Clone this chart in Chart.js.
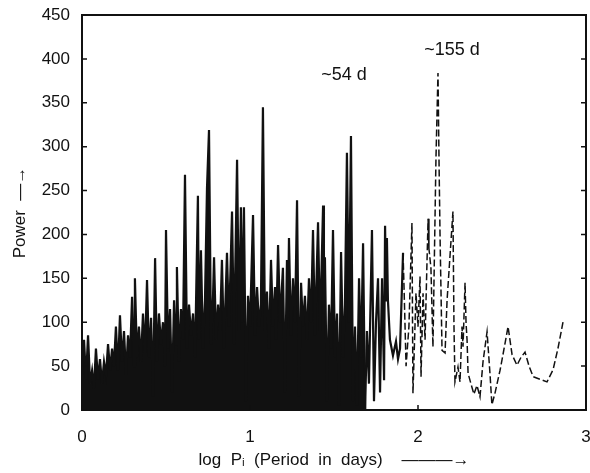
<!DOCTYPE html>
<html>
<head>
<meta charset="utf-8">
<script src="https://cdn.jsdelivr.net/npm/chart.js@4"></script>
<style>
  body { margin: 0; background: #fff; }
</style>
</head>
<body>
<canvas id="periodogram" width="590" height="473"></canvas>
<script>
// power spectrum as [log P, power]
var shortPeriod = [
  [0.000,40],[0.012,80],[0.024,35],[0.036,85],[0.048,30],[0.060,45],[0.071,25],[0.083,70],[0.095,35],[0.107,58],
  [0.119,30],[0.131,55],[0.143,40],[0.155,75],[0.167,45],[0.179,70],[0.190,50],[0.202,95],[0.214,45],[0.226,108],
  [0.238,55],[0.250,90],[0.262,40],[0.274,85],[0.286,60],[0.298,129],[0.310,50],[0.315,150],[0.327,60],[0.339,95],
  [0.351,55],[0.363,110],[0.375,65],[0.387,148],[0.399,60],[0.411,105],[0.423,15],[0.435,173],[0.446,55],[0.458,110],
  [0.470,75],[0.482,100],[0.494,50],[0.500,205],[0.512,70],[0.524,115],[0.536,20],[0.548,125],[0.560,75],[0.565,163],
  [0.577,55],[0.589,115],[0.601,80],[0.613,268],[0.625,70],[0.637,120],[0.649,85],[0.661,110],[0.673,60],[0.690,244],
  [0.696,80],[0.708,182],[0.720,70],[0.732,125],[0.744,253],[0.756,319],[0.768,75],[0.780,130],[0.786,174],[0.798,80],
  [0.810,120],[0.821,90],[0.833,171],[0.845,70],[0.863,179],[0.875,95],[0.893,226],[0.905,75],[0.923,285],[0.935,90],
  [0.946,231],[0.952,100],[0.964,231],[0.976,10],[0.988,130]
];
var midPeriod = [
  [1.000,95],[1.018,222],[1.030,85],[1.042,140],[1.054,95],[1.065,120],[1.077,345],[1.089,90],[1.101,135],[1.113,70],
  [1.125,171],[1.137,95],[1.149,140],[1.155,80],[1.167,188],[1.179,100],[1.196,162],[1.208,20],[1.220,171],[1.226,105],
  [1.232,196],[1.244,85],[1.256,150],[1.268,100],[1.280,239],[1.292,15],[1.304,145],[1.315,95],[1.327,130],[1.339,80],
  [1.351,150],[1.363,100],[1.375,205],[1.387,85],[1.405,214],[1.417,90],[1.435,233],[1.440,110],[1.446,174],[1.458,10],
  [1.470,120],[1.482,70],[1.494,205],[1.506,60],[1.518,110],[1.530,5],[1.542,180],[1.554,60],[1.565,120],[1.577,293],
  [1.589,100],[1.601,312],[1.613,10],[1.625,95],[1.637,5],[1.649,150],[1.661,60],[1.673,190],[1.685,0],[1.696,90],
  [1.708,30],[1.726,205],[1.738,10],[1.750,100],[1.762,150],[1.774,20],[1.786,150],[1.798,34],[1.804,210],[1.810,125],
  [1.815,196],[1.821,125],[1.833,80],[1.851,62],[1.869,78],[1.881,58]
];
var longPeriod = [
  [1.893,70],[1.911,179],[1.917,139],[1.929,50],[1.946,95],[1.964,213],[1.970,19],[1.988,133],[2.000,95],[2.012,152],
  [2.018,38],[2.030,133],[2.042,80],[2.060,218],[2.065,184],[2.077,162],[2.089,72],[2.107,287],[2.119,384],[2.125,285],
  [2.131,201],[2.143,68],[2.161,65],[2.173,125],[2.208,226],[2.214,97],[2.220,32],[2.238,49],[2.250,32],[2.262,95],
  [2.268,72],[2.280,145],[2.286,99],[2.292,80],[2.298,42],[2.315,30],[2.333,18],[2.351,28],[2.369,15],[2.387,55],
  [2.411,89],[2.429,40],[2.440,6],[2.458,19],[2.488,45],[2.500,57],[2.518,76],[2.536,95],[2.560,63],[2.589,51],
  [2.613,60],[2.637,66],[2.661,50],[2.685,38],[2.726,35],[2.768,32],[2.804,46],[2.833,70],[2.863,100]
];

var peakNames = ['~54 d', '~155 d'];
var peakLogP = [1.601, 2.119];
var peakPower = [312, 384];

var FONT = '"Liberation Sans", Arial, sans-serif';

var spectrum = shortPeriod.concat(midPeriod, longPeriod).map(function(p) {
  return {x: p[0], y: p[1]};
});

// box round the plot, inward ticks and the two peak labels
var framePlugin = {
  id: 'frame',
  afterDraw: function(chart) {
    var a = chart.chartArea;
    var ctx = chart.ctx;
    var xs = chart.scales.x, ys = chart.scales.y;
    ctx.save();
    ctx.strokeStyle = '#111';
    ctx.lineWidth = 2;
    ctx.strokeRect(a.left, a.top, a.right - a.left, a.bottom - a.top);
    ctx.lineWidth = 1.5;
    ctx.beginPath();
    ys.ticks.forEach(function(t) {
      var y = ys.getPixelForValue(t.value);
      ctx.moveTo(a.left, y); ctx.lineTo(a.left + 5, y);
      ctx.moveTo(a.right, y); ctx.lineTo(a.right - 5, y);
    });
    xs.ticks.forEach(function(t) {
      var x = xs.getPixelForValue(t.value);
      ctx.moveTo(x, a.bottom); ctx.lineTo(x, a.bottom - 5);
    });
    ctx.stroke();

    var offsets = [[-7, -61], [14, -23]];
    ctx.fillStyle = '#111';
    ctx.font = '18px ' + FONT;
    ctx.textAlign = 'center';
    ctx.textBaseline = 'middle';
    for (var i = 0; i < peakNames.length; i++) {
      var px = xs.getPixelForValue(peakLogP[i]) + offsets[i][0];
      var py = ys.getPixelForValue(peakPower[i]) + offsets[i][1];
      ctx.fillText(peakNames[i], px, py);
    }
    ctx.restore();
  }
};

new Chart(document.getElementById('periodogram'), {
  type: 'line',
  data: {
    datasets: [{
      data: spectrum,
      borderColor: '#111',
      backgroundColor: '#111',
      borderWidth: 2.2,
      pointRadius: 0,
      tension: 0,
      fill: 'origin',
      segment: {
        // the crowded short-period part prints as a solid black mass
        backgroundColor: function(ctx) {
          return ctx.p0.parsed.x < 1.684 ? '#111' : 'rgba(0,0,0,0)';
        },
        borderDash: function(ctx) {
          return ctx.p0.parsed.x >= 1.9 ? [7, 3] : undefined;
        },
        borderWidth: function(ctx) {
          return ctx.p0.parsed.x >= 1.9 ? 1.5 : undefined;
        }
      }
    }]
  },
  options: {
    responsive: false,
    animation: false,
    layout: { padding: { top: 15, right: 4 } },
    plugins: {
      legend: { display: false },
      tooltip: { enabled: false }
    },
    scales: {
      x: {
        type: 'linear',
        min: 0,
        max: 3,
        grid: { display: false, drawTicks: false },
        border: { display: false },
        ticks: { stepSize: 1, padding: 17, color: '#111', font: { family: FONT, size: 17 } },
        title: {
          display: true,
          text: 'log  P\u1d62  (Period  in  days)    \u2014\u2014\u2014\u2192',
          color: '#111',
          font: { family: FONT, size: 17 },
          padding: { top: 0, bottom: 2 }
        },
        afterFit: function(scale) {
          scale.height = 63;
          scale.paddingLeft = 0;
          scale.paddingRight = 0;
        }
      },
      y: {
        min: 0,
        max: 450,
        grid: { display: false, drawTicks: false },
        border: { display: false },
        ticks: { stepSize: 50, padding: 12, color: '#111', font: { family: FONT, size: 17 } },
        title: {
          display: true,
          text: 'Power  \u2014\u2192',
          color: '#111',
          font: { family: FONT, size: 17 },
          padding: { top: 10, bottom: 4 }
        },
        afterFit: function(scale) {
          scale.width = 82;
          scale.paddingTop = 0;
          scale.paddingBottom = 0;
        }
      }
    }
  },
  plugins: [framePlugin]
});
</script>
</body>
</html>
